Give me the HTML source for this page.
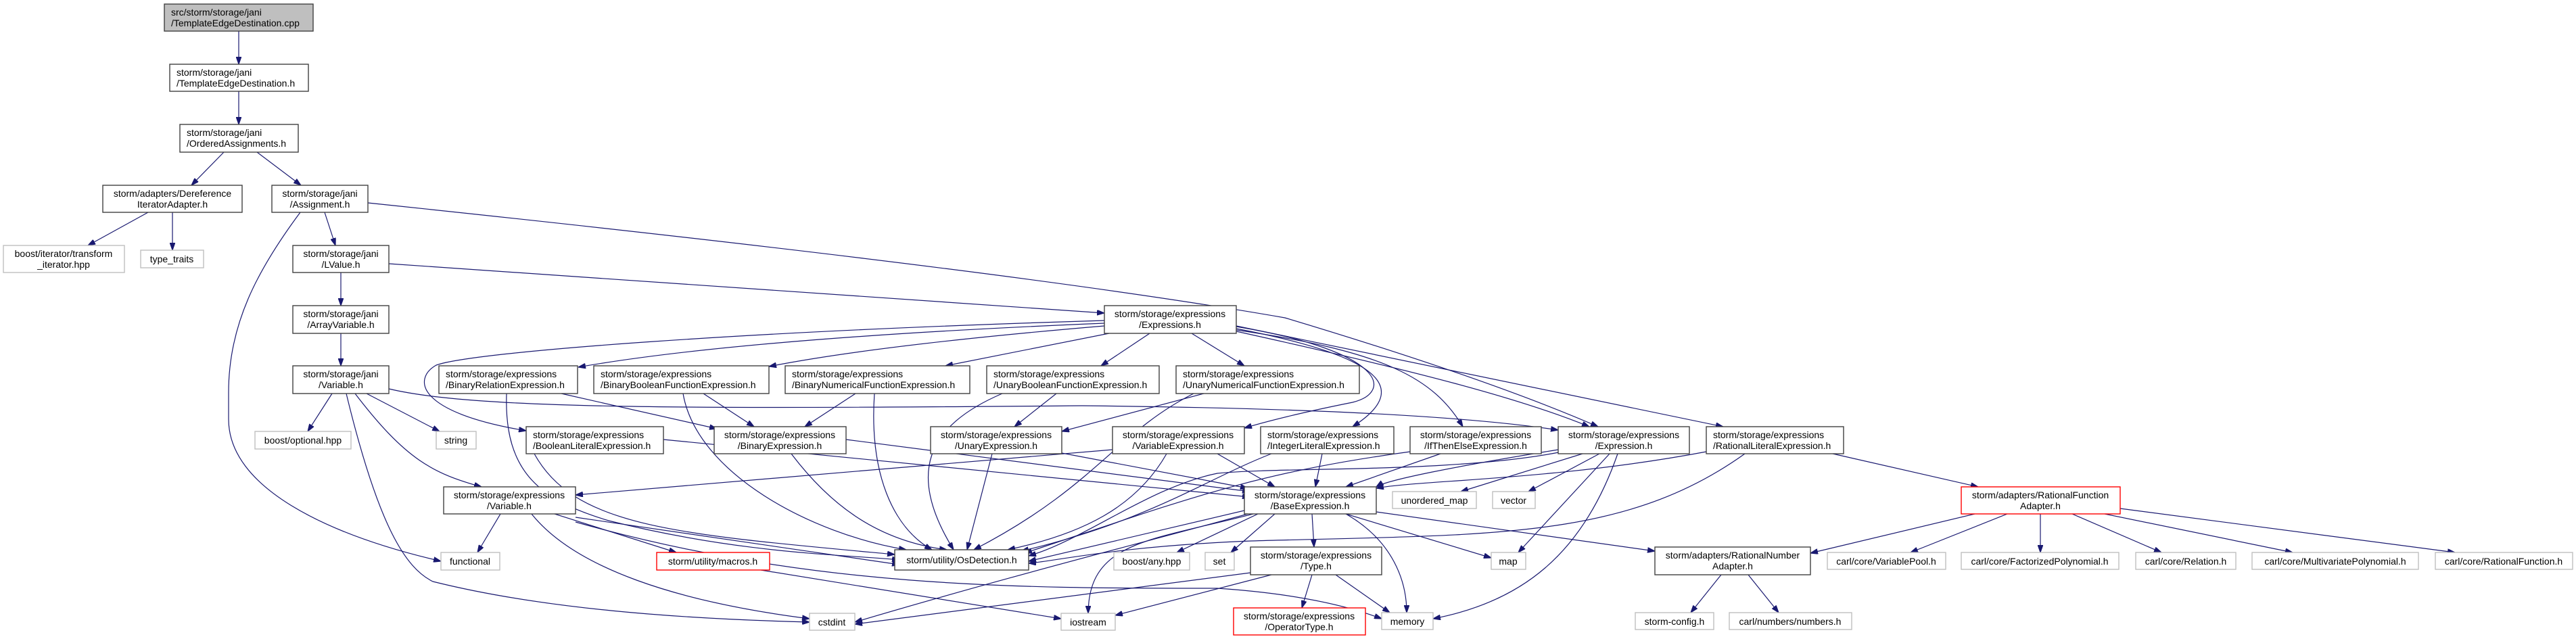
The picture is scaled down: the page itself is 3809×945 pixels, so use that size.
<!DOCTYPE html>
<html><head><meta charset="utf-8"><style>
html,body{margin:0;padding:0;background:#fff;}
svg{display:block;}
text{font-family:"Liberation Sans",sans-serif;font-size:14px;fill:#000;}
.n{fill:#fff;stroke:#404040;stroke-width:1.4;}
.g{fill:#fff;stroke:#bfbfbf;stroke-width:1.4;}
.r{fill:#fff;stroke:#ff0000;stroke-width:1.4;}
.e{fill:none;stroke:#191970;stroke-width:1.2;marker-end:url(#a);}
</style></head><body>
<svg width="3809" height="945" viewBox="0 0 3809 945" xmlns="http://www.w3.org/2000/svg">
<defs><marker id="a" viewBox="0 0 10 7" refX="10" refY="3.5" markerWidth="11" markerHeight="8" markerUnits="userSpaceOnUse" orient="auto"><path d="M0,0 L10,3.5 L0,7 z" fill="#191970" stroke="#191970"/></marker></defs>

<!-- edges -->
<path class="e" d="M353,46 L353,95"/>
<path class="e" d="M353,135 L353,184"/>
<path class="e" d="M331,225 L283,274"/>
<path class="e" d="M380,225 L445,274"/>
<path class="e" d="M219,314 L130,363"/>
<path class="e" d="M255,314 L255,370"/>
<path class="e" d="M480,314 L496,363"/>
<path class="e" d="M444,314 C380,400 338,480 338,580 L338,620 C338,720 480,790 652,830"/>
<path class="e" d="M544,300 Q1500,400 1900,470 Q2200,560 2363,631"/>
<path class="e" d="M504,403 L504,452"/>
<path class="e" d="M575,390 L1633,463"/>
<path class="e" d="M504,493 L504,541"/>
<path class="e" d="M491,582 L455,638"/>
<path class="e" d="M542,582 L650,638"/>
<path class="e" d="M525,582 C600,680 640,700 712,720"/>
<path class="e" d="M512,582 C560,780 600,840 640,860 C800,900 1000,915 1197,920"/>
<path class="e" d="M575,575 C700,605 1000,605 1600,600 Q2100,605 2304,636"/>
<path class="e" d="M1633,478 Q1100,500 855,543"/>
<path class="e" d="M1633,482 Q1300,510 1137,542"/>
<path class="e" d="M1640,493 L1398,541"/>
<path class="e" d="M1700,493 L1628,541"/>
<path class="e" d="M1762,493 L1840,541"/>
<path class="e" d="M1633,474 C1100,490 700,520 645,540 C610,560 615,610 778,637"/>
<path class="e" d="M1828,483 C2050,520 2060,580 2000,595 Q1900,615 1840,633"/>
<path class="e" d="M1828,486 C2060,530 2080,580 2000,631"/>
<path class="e" d="M1828,488 C2050,520 2120,560 2163,631"/>
<path class="e" d="M1828,490 C2100,550 2250,590 2350,631"/>
<path class="e" d="M1828,482 Q2250,570 2548,631"/>
<path class="e" d="M830,582 L1060,634"/>
<path class="e" d="M749,582 C745,700 800,740 900,770 C1100,820 1250,820 1330,828"/>
<path class="e" d="M1040,582 L1115,631"/>
<path class="e" d="M1010,582 C1030,700 1200,790 1340,813"/>
<path class="e" d="M1265,582 L1190,631"/>
<path class="e" d="M1293,582 C1285,700 1320,780 1378,813"/>
<path class="e" d="M1562,582 L1500,631"/>
<path class="e" d="M1482,582 C1370,630 1340,700 1410,813"/>
<path class="e" d="M1780,582 L1570,638"/>
<path class="e" d="M1765,582 C1650,640 1620,720 1440,813"/>
<path class="e" d="M981,650 L1848,735"/>
<path class="e" d="M790,671 C850,780 1000,790 1323,820"/>
<path class="e" d="M1251,650 L1848,727"/>
<path class="e" d="M1170,671 C1230,750 1300,800 1400,813"/>
<path class="e" d="M1570,670 L1845,722"/>
<path class="e" d="M1467,671 L1430,813"/>
<path class="e" d="M1800,671 L1885,720"/>
<path class="e" d="M1725,671 C1680,750 1600,790 1490,813"/>
<path class="e" d="M1645,665 L851,732"/>
<path class="e" d="M1955,671 L1945,720"/>
<path class="e" d="M1880,671 C1780,710 1700,770 1510,815"/>
<path class="e" d="M2130,671 L1990,720"/>
<path class="e" d="M2085,668 C1850,700 1750,740 1515,818"/>
<path class="e" d="M2304,665 C2150,690 2050,710 2035,720"/>
<path class="e" d="M2310,668 C2150,700 1900,690 1800,700 C1700,720 1600,800 1521,822"/>
<path class="e" d="M2340,671 L2160,727"/>
<path class="e" d="M2365,671 L2260,727"/>
<path class="e" d="M2380,671 L2245,817"/>
<path class="e" d="M2392,671 C2340,820 2250,890 2119,915"/>
<path class="e" d="M2523,668 C2300,710 2100,710 2035,722"/>
<path class="e" d="M2580,671 C2400,800 2200,790 1850,800 C1650,808 1560,830 1521,833"/>
<path class="e" d="M2710,671 L2925,720"/>
<path class="e" d="M740,760 L706,817"/>
<path class="e" d="M786,760 C850,840 1000,890 1197,915"/>
<path class="e" d="M820,760 L1000,817"/>
<path class="e" d="M851,765 L1330,835"/>
<path class="e" d="M851,772 C1200,870 1500,870 1800,870 Q1950,880 2043,915"/>
<path class="e" d="M1840,755 L1521,830"/>
<path class="e" d="M1860,760 L1740,817"/>
<path class="e" d="M1885,760 L1820,817"/>
<path class="e" d="M1940,760 L1943,809"/>
<path class="e" d="M1990,760 L2205,825"/>
<path class="e" d="M1990,760 C2060,800 2080,860 2080,906"/>
<path class="e" d="M2035,757 L2447,815"/>
<path class="e" d="M1853,760 C1700,800 1610,800 1609,907"/>
<path class="e" d="M1845,760 C1700,800 1500,850 1264,920"/>
<path class="e" d="M1940,850 L1925,899"/>
<path class="e" d="M1975,850 L2055,906"/>
<path class="e" d="M1880,850 L1649,910"/>
<path class="e" d="M1849,847 L1264,923"/>
<path class="e" d="M1125,843 L1569,915"/>
<path class="e" d="M2545,850 L2500,906"/>
<path class="e" d="M2585,850 L2630,906"/>
<path class="e" d="M2920,760 L2677,818"/>
<path class="e" d="M2968,760 L2825,817"/>
<path class="e" d="M3017,760 L3017,817"/>
<path class="e" d="M3064,760 L3196,817"/>
<path class="e" d="M3112,760 L3390,817"/>
<path class="e" d="M3135,752 L3630,817"/>

<!-- nodes -->
<rect x="243" y="6" width="220" height="40" fill="#bfbfbf" stroke="#404040" stroke-width="1.4"/>
<text x="253" y="23">src/storm/storage/jani</text><text x="253" y="39">/TemplateEdgeDestination.cpp</text>

<rect class="n" x="251" y="95" width="205" height="40"/>
<text x="261" y="112">storm/storage/jani</text><text x="261" y="128">/TemplateEdgeDestination.h</text>

<rect class="n" x="266" y="184" width="175" height="41"/>
<text x="276" y="201">storm/storage/jani</text><text x="276" y="217">/OrderedAssignments.h</text>

<rect class="n" x="152" y="274" width="206" height="40"/>
<text x="255" y="291" text-anchor="middle">storm/adapters/Dereference</text><text x="255" y="307" text-anchor="middle">IteratorAdapter.h</text>

<rect class="n" x="402" y="274" width="142" height="40"/>
<text x="473" y="291" text-anchor="middle">storm/storage/jani</text><text x="473" y="307" text-anchor="middle">/Assignment.h</text>

<rect class="g" x="5" y="363" width="179" height="40"/>
<text x="94" y="380" text-anchor="middle">boost/iterator/transform</text><text x="94" y="396" text-anchor="middle">_iterator.hpp</text>

<rect class="g" x="208" y="370" width="93" height="26"/>
<text x="254" y="388" text-anchor="middle">type_traits</text>

<rect class="n" x="433" y="363" width="142" height="40"/>
<text x="504" y="380" text-anchor="middle">storm/storage/jani</text><text x="504" y="396" text-anchor="middle">/LValue.h</text>

<rect class="n" x="433" y="452" width="142" height="41"/>
<text x="504" y="469" text-anchor="middle">storm/storage/jani</text><text x="504" y="485" text-anchor="middle">/ArrayVariable.h</text>

<rect class="n" x="433" y="541" width="142" height="41"/>
<text x="504" y="558" text-anchor="middle">storm/storage/jani</text><text x="504" y="574" text-anchor="middle">/Variable.h</text>

<rect class="n" x="1633" y="452" width="195" height="41"/>
<text x="1730" y="469" text-anchor="middle">storm/storage/expressions</text><text x="1730" y="485" text-anchor="middle">/Expressions.h</text>

<rect class="n" x="649" y="541" width="205" height="41"/>
<text x="659" y="558">storm/storage/expressions</text><text x="659" y="574">/BinaryRelationExpression.h</text>

<rect class="n" x="878" y="541" width="259" height="41"/>
<text x="888" y="558">storm/storage/expressions</text><text x="888" y="574">/BinaryBooleanFunctionExpression.h</text>

<rect class="n" x="1161" y="541" width="273" height="41"/>
<text x="1171" y="558">storm/storage/expressions</text><text x="1171" y="574">/BinaryNumericalFunctionExpression.h</text>

<rect class="n" x="1459" y="541" width="255" height="41"/>
<text x="1469" y="558">storm/storage/expressions</text><text x="1469" y="574">/UnaryBooleanFunctionExpression.h</text>

<rect class="n" x="1739" y="541" width="271" height="41"/>
<text x="1749" y="558">storm/storage/expressions</text><text x="1749" y="574">/UnaryNumericalFunctionExpression.h</text>

<rect class="g" x="377" y="638" width="142" height="26"/>
<text x="448" y="656" text-anchor="middle">boost/optional.hpp</text>

<rect class="g" x="645" y="638" width="59" height="26"/>
<text x="674" y="656" text-anchor="middle">string</text>

<rect class="n" x="778" y="631" width="203" height="40"/>
<text x="788" y="648">storm/storage/expressions</text><text x="788" y="664">/BooleanLiteralExpression.h</text>

<rect class="n" x="1056" y="631" width="195" height="40"/>
<text x="1153" y="648" text-anchor="middle">storm/storage/expressions</text><text x="1153" y="664" text-anchor="middle">/BinaryExpression.h</text>

<rect class="n" x="1376" y="631" width="194" height="40"/>
<text x="1473" y="648" text-anchor="middle">storm/storage/expressions</text><text x="1473" y="664" text-anchor="middle">/UnaryExpression.h</text>

<rect class="n" x="1645" y="631" width="195" height="40"/>
<text x="1742" y="648" text-anchor="middle">storm/storage/expressions</text><text x="1742" y="664" text-anchor="middle">/VariableExpression.h</text>

<rect class="n" x="1864" y="631" width="197" height="40"/>
<text x="1874" y="648">storm/storage/expressions</text><text x="1874" y="664">/IntegerLiteralExpression.h</text>

<rect class="n" x="2085" y="631" width="194" height="40"/>
<text x="2182" y="648" text-anchor="middle">storm/storage/expressions</text><text x="2182" y="664" text-anchor="middle">/IfThenElseExpression.h</text>

<rect class="n" x="2304" y="631" width="194" height="40"/>
<text x="2401" y="648" text-anchor="middle">storm/storage/expressions</text><text x="2401" y="664" text-anchor="middle">/Expression.h</text>

<rect class="n" x="2523" y="631" width="203" height="40"/>
<text x="2533" y="648">storm/storage/expressions</text><text x="2533" y="664">/RationalLiteralExpression.h</text>

<rect class="n" x="656" y="720" width="195" height="40"/>
<text x="753" y="737" text-anchor="middle">storm/storage/expressions</text><text x="753" y="753" text-anchor="middle">/Variable.h</text>

<rect class="n" x="1840" y="720" width="195" height="40"/>
<text x="1937" y="737" text-anchor="middle">storm/storage/expressions</text><text x="1937" y="753" text-anchor="middle">/BaseExpression.h</text>

<rect class="g" x="2059" y="727" width="124" height="25"/>
<text x="2121" y="745" text-anchor="middle">unordered_map</text>

<rect class="g" x="2207" y="727" width="63" height="25"/>
<text x="2238" y="745" text-anchor="middle">vector</text>

<rect class="r" x="2900" y="720" width="235" height="40"/>
<text x="3017" y="737" text-anchor="middle">storm/adapters/RationalFunction</text><text x="3017" y="753" text-anchor="middle">Adapter.h</text>

<rect class="g" x="652" y="817" width="87" height="26"/>
<text x="695" y="835" text-anchor="middle">functional</text>

<rect class="r" x="971" y="817" width="167" height="26"/>
<text x="1054" y="835" text-anchor="middle">storm/utility/macros.h</text>

<rect class="n" x="1323" y="813" width="198" height="30"/>
<text x="1422" y="833" text-anchor="middle">storm/utility/OsDetection.h</text>

<rect class="g" x="1647" y="817" width="112" height="26"/>
<text x="1703" y="835" text-anchor="middle">boost/any.hpp</text>

<rect class="g" x="1782" y="817" width="43" height="26"/>
<text x="1803" y="835" text-anchor="middle">set</text>

<rect class="n" x="1849" y="809" width="194" height="41"/>
<text x="1946" y="826" text-anchor="middle">storm/storage/expressions</text><text x="1946" y="842" text-anchor="middle">/Type.h</text>

<rect class="g" x="2205" y="817" width="51" height="25"/>
<text x="2230" y="835" text-anchor="middle">map</text>

<rect class="n" x="2447" y="809" width="230" height="41"/>
<text x="2562" y="826" text-anchor="middle">storm/adapters/RationalNumber</text><text x="2562" y="842" text-anchor="middle">Adapter.h</text>

<rect class="g" x="2702" y="817" width="175" height="25"/>
<text x="2789" y="835" text-anchor="middle">carl/core/VariablePool.h</text>

<rect class="g" x="2900" y="817" width="233" height="25"/>
<text x="3016" y="835" text-anchor="middle">carl/core/FactorizedPolynomial.h</text>

<rect class="g" x="3158" y="817" width="148" height="25"/>
<text x="3232" y="835" text-anchor="middle">carl/core/Relation.h</text>

<rect class="g" x="3330" y="817" width="246" height="25"/>
<text x="3453" y="835" text-anchor="middle">carl/core/MultivariatePolynomial.h</text>

<rect class="g" x="3601" y="817" width="203" height="25"/>
<text x="3702" y="835" text-anchor="middle">carl/core/RationalFunction.h</text>

<rect class="g" x="1197" y="907" width="67" height="25"/>
<text x="1230" y="925" text-anchor="middle">cstdint</text>

<rect class="g" x="1569" y="907" width="80" height="25"/>
<text x="1609" y="925" text-anchor="middle">iostream</text>

<rect class="r" x="1824" y="899" width="195" height="40"/>
<text x="1921" y="916" text-anchor="middle">storm/storage/expressions</text><text x="1921" y="932" text-anchor="middle">/OperatorType.h</text>

<rect class="g" x="2043" y="906" width="76" height="25"/>
<text x="2081" y="924" text-anchor="middle">memory</text>

<rect class="g" x="2418" y="906" width="116" height="25"/>
<text x="2476" y="924" text-anchor="middle">storm-config.h</text>

<rect class="g" x="2557" y="906" width="181" height="25"/>
<text x="2647" y="924" text-anchor="middle">carl/numbers/numbers.h</text>
</svg>
</body></html>
